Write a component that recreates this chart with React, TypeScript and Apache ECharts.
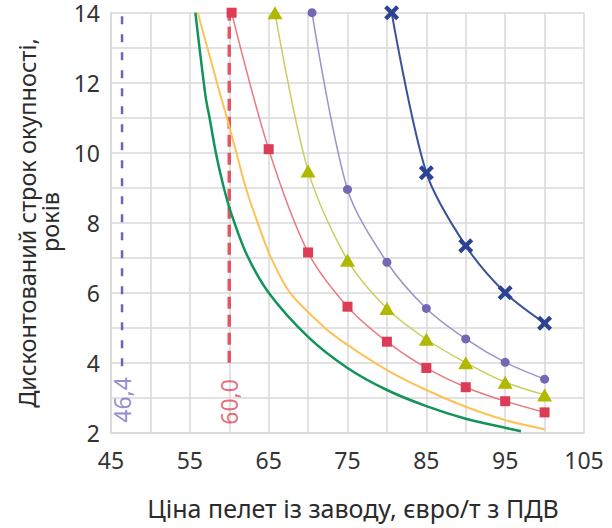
import React, { useEffect, useRef } from 'react';
import * as echarts from 'echarts';

// Data: [price, payback years]
const greenCurve: number[][] = [
  [55.7, 14], [57.0, 11.6], [57.5, 11], [58.3, 10], [59.2, 9.1], [60.2, 8.3], [62.2, 7.1], [65, 6],
  [70, 4.74], [75, 3.85], [80, 3.22], [85, 2.76], [90, 2.4], [95, 2.14], [97, 2.04],
];
const yellowCurve: number[][] = [
  [56.0, 14], [59.0, 11.55], [59.7, 11], [60.9, 10], [62.1, 9], [63.6, 8], [65.3, 7], [67.7, 6],
  [72.1, 5], [75, 4.51], [80, 3.79], [85, 3.22], [90, 2.74], [95, 2.36], [100, 2.1],
];
const squareSeries: number[][] = [
  [60.3, 14], [65, 10.1], [70, 7.15], [75, 5.6], [80, 4.6], [85, 3.85], [90, 3.3], [95, 2.9], [100, 2.58],
];
const triangleSeries: number[][] = [
  [65.8, 14], [70, 9.48], [75, 6.93], [80, 5.55], [85, 4.67], [90, 4.0], [95, 3.44], [100, 3.08],
];
const circleSeries: number[][] = [
  [70.5, 14], [75, 8.95], [80, 6.87], [85, 5.55], [90, 4.68], [95, 4.01], [100, 3.53],
];
const crossSeries: number[][] = [
  [80.6, 14], [85, 9.43], [90, 7.34], [95, 6.0], [100, 5.13],
];
const refPrices = [46.4, 60.0];
const refLabels = ['46,4', '60,0'];

const xTitle = 'Ціна пелет із заводу, євро/т з ПДВ';
const yTitle1 = 'Дисконтований строк окупності,';
const yTitle2 = 'років';

const FONT = 'Noto Sans';
const X_SYMBOL = 'path://M2,0 L5,3 L8,0 L10,2 L7,5 L10,8 L8,10 L5,7 L2,10 L0,8 L3,5 L0,2 Z';

export default function App() {
  const ref = useRef<HTMLDivElement>(null);
  useEffect(() => {
    if (!ref.current) return;
    const chart = echarts.init(ref.current, null, { renderer: 'svg' });
    const gridColor = '#d9d9d9';
    const SM = 0.3;
    chart.setOption({
      animation: false,
      backgroundColor: '#ffffff',
      grid: { left: 111, right: 28, top: 12.7, bottom: 95.3 },
      xAxis: {
        type: 'value', min: 45, max: 105, interval: 5,
        axisLine: { show: true, lineStyle: { color: gridColor, width: 1.5 } },
        axisTick: { show: false },
        splitLine: { show: true, lineStyle: { color: gridColor, width: 1.5 } },
        axisLabel: {
          margin: 16, fontSize: 23, fontFamily: FONT, color: '#333',
          formatter: (v: number) => ((v - 45) % 10 === 0 ? String(v) : ''),
        },
      },
      yAxis: {
        type: 'value', min: 2, max: 14, interval: 1,
        axisLine: { show: true, lineStyle: { color: gridColor, width: 1.5 } },
        axisTick: { show: false },
        splitLine: { show: true, lineStyle: { color: gridColor, width: 1.5 } },
        axisLabel: {
          margin: 11, fontSize: 23, fontFamily: FONT, color: '#333',
          formatter: (v: number) => (v % 2 === 0 ? String(v) : ''),
        },
      },
      graphic: [
        {
          type: 'text', x: 353, y: 508,
          style: { text: xTitle, fontSize: 25, fontFamily: FONT, fill: '#2b2b2b', textAlign: 'center', textVerticalAlign: 'middle' },
        },
        {
          type: 'text', x: 27, y: 223, rotation: Math.PI / 2,
          style: { text: yTitle1, fontSize: 23.5, fontFamily: FONT, fill: '#2b2b2b', textAlign: 'center', textVerticalAlign: 'middle' },
        },
        {
          type: 'text', x: 50, y: 222, rotation: Math.PI / 2,
          style: { text: yTitle2, fontSize: 23.5, fontFamily: FONT, fill: '#2b2b2b', textAlign: 'center', textVerticalAlign: 'middle' },
        },
      ],
      series: [
        {
          type: 'line', data: [[refPrices[0], 3.9], [refPrices[0], 14]], symbol: 'none',
          lineStyle: { color: '#6c64b8', width: 2.5, type: [8, 10] }, z: 1,
        },
        {
          type: 'line', data: [[refPrices[1], 4.0], [refPrices[1], 14]], symbol: 'none',
          lineStyle: { color: '#e25563', width: 3.5, type: [12, 6] }, z: 1,
        },
        {
          type: 'scatter', symbolSize: 0,
          data: [[refPrices[0], 2.85]],
          label: { show: true, position: 'inside', rotate: 90, offset: [3, 0], formatter: refLabels[0], fontSize: 23, fontFamily: FONT, color: '#7a70c0' },
        },
        {
          type: 'scatter', symbolSize: 0,
          data: [[refPrices[1], 2.85]],
          label: { show: true, position: 'inside', rotate: 90, offset: [1, 0], formatter: refLabels[1], fontSize: 23, fontFamily: FONT, color: '#e04858' },
        },
        {
          type: 'line', data: greenCurve, symbol: 'none', smooth: SM,
          lineStyle: { color: '#12935a', width: 2.5 },
        },
        {
          type: 'line', data: yellowCurve, symbol: 'none', smooth: SM,
          lineStyle: { color: '#fdc256', width: 2 },
        },
        {
          type: 'line', data: squareSeries, symbol: 'rect', symbolSize: 10, smooth: SM,
          lineStyle: { color: '#ea7a82', width: 1.5 }, itemStyle: { color: '#dc3c55' },
        },
        {
          type: 'line', data: triangleSeries, symbol: 'triangle', symbolSize: [15, 13], smooth: SM,
          lineStyle: { color: '#c9ce5e', width: 1.5 }, itemStyle: { color: '#b0b800' },
        },
        {
          type: 'line', data: circleSeries, symbol: 'circle', symbolSize: 9, smooth: SM,
          lineStyle: { color: '#9a92cc', width: 1.5 }, itemStyle: { color: '#7468b4' },
        },
        {
          type: 'line', data: crossSeries, symbol: X_SYMBOL, symbolSize: 15, smooth: SM,
          lineStyle: { color: '#3a5299', width: 2 }, itemStyle: { color: '#2b4390' },
        },
      ],
    });
    return () => chart.dispose();
  }, []);
  return <div ref={ref} style={{ position: 'fixed', left: 0, top: 0, width: 612, height: 528 }} />;
}
